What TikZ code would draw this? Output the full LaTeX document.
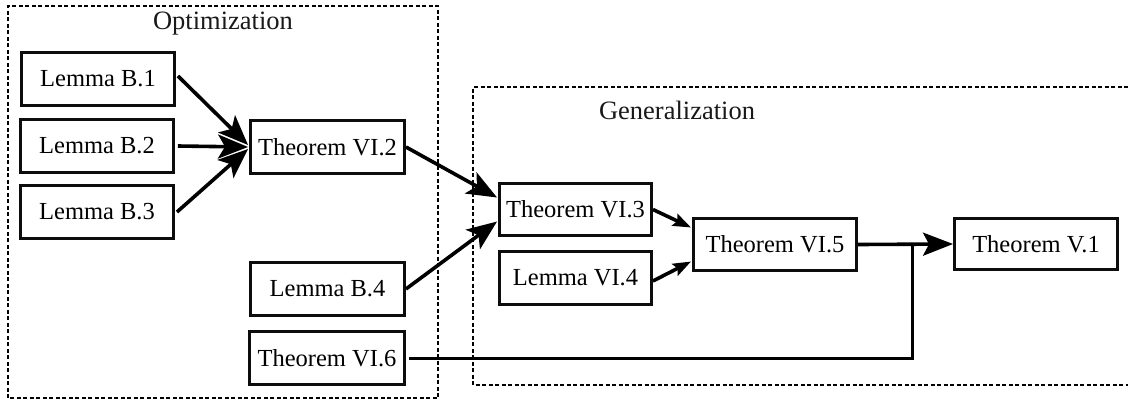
\documentclass[tikz,border=0pt]{standalone}
\usepackage{fontspec}
\setmainfont{Liberation Serif}
\usetikzlibrary{arrows.meta,calc}
\tikzset{
  box/.style={draw=black!95, line width=3.4pt, minimum width=#1, minimum height=52.5pt, inner sep=0pt,
    font=\fontsize{24.5}{29}\selectfont},
  box/.default=152.5pt,
  arr/.style={line width=3.6pt, draw=black, -{Stealth[length=30pt,width=24pt,inset=7pt]}},
  sarr/.style={line width=3.6pt, draw=black, -{Stealth[length=18pt,width=13pt,inset=3pt]}},
  barr/.style={line width=3.6pt, draw=black, -{Stealth[length=30pt,width=23pt,inset=6pt]}},
  frame/.style={line width=2.4pt, draw=black, dash pattern=on 4pt off 2.5pt},
  lbl/.style={font=\fontsize{26.5}{31}\selectfont, text=black!90}
}
\begin{document}
\begin{tikzpicture}[x=1pt,y=-1pt]
\useasboundingbox (0,0) rectangle (1128,400);
% group frames
\draw[frame] (8,398) -- (8,6) -- (438,6) -- (438,398) -- cycle;
\draw[frame] (1128,87) -- (473,87) -- (473,385) -- (1128,385);
\node[lbl] (opt) at (223,24) {Optimization};
\node[lbl] (gen) at (677,110) {Generalization};
% nodes
\node[box] (b1) at (98,79) {Lemma B.1};
\node[box] (b2) at (97,146) {Lemma B.2};
\node[box, minimum height=53.5pt] (b3) at (97,212) {Lemma B.3};
\node[box=153.5pt] (t62) at (327.5,147) {Theorem VI.2};
\node[box=153.5pt] (b4) at (327.5,289) {Lemma B.4};
\node[box=154.5pt] (t66) at (327,358) {Theorem VI.6};
\node[box=151.5pt, minimum height=51.5pt] (t63) at (575.5,209.5) {Theorem VI.3};
\node[box=151.5pt] (l64) at (575.5,278) {Lemma VI.4};
\node[box=162.5pt] (t65) at (775,244.5) {Theorem VI.5};
\node[box=162.5pt, minimum height=51.5pt] (v1) at (1036,244) {Theorem V.1};
\coordinate (j) at (912,244.5);
% connectors
\draw[arr] (b1.east) ++(2,-3) -- ($(t62.west)+(-1,-2)$);
\draw[arr] (b2.east) ++(3,0) -- ($(t62.west)+(-1,0)$);
\draw[arr] (b3.east) ++(2,0) -- ($(t62.west)+(-1,2)$);
\draw[arr] (t62.east) -- ($(t63.west)+(-1,-12)$);
\draw[arr] (b4.east) -- ($(t63.west)+(-1,12)$);
\draw[sarr] (t63.east) -- ($(t65.west)+(-1,-17)$);
\draw[sarr] (l64.east) ++(0,3) -- ($(t65.west)+(-1,17)$);
\draw[barr] (t65.east) -- (v1.west);
\draw[line width=3pt, draw=black] ($(t66.east)+(3,0)$) -| (j);
\end{tikzpicture}
\end{document}
